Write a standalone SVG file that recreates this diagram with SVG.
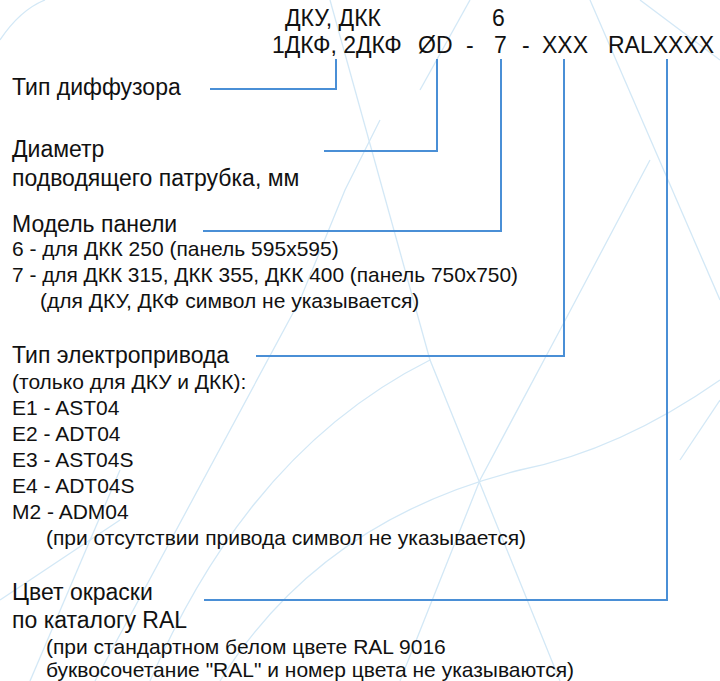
<svg xmlns="http://www.w3.org/2000/svg" width="720" height="681" viewBox="0 0 720 681">
<style>
text{font-family:"Liberation Sans",Arial,sans-serif;fill:#111;}
.t{font-size:23px;}
.s{font-size:21px;}
.c{fill:none;stroke:#4a8fd6;stroke-width:2;}
.w{fill:none;stroke:#d3e8f6;stroke-width:1.3;}
</style>
<rect width="720" height="681" fill="#fff"/>
<g id="watermark">
<path class="w" d="M0,40 Q20,10 45,0"/>
<path class="w" d="M95,681 L300,300 L345,190 L380,120"/>
<path class="w" d="M150,681 Q250,450 430,360 L560,681"/>
<path class="w" d="M330,0 L430,360"/>
<path class="w" d="M220,681 Q320,520 520,470 Q620,450 720,380"/>
<path class="w" d="M400,681 L480,480 L560,330 L650,160"/>
<path class="w" d="M590,0 L720,300"/>
<path class="w" d="M640,0 Q680,30 720,60"/>
<path class="w" d="M470,0 L420,90"/>
<path class="w" d="M680,460 L720,400"/>
<path class="w" d="M0,600 Q60,560 120,520"/>
<path class="w" d="M30,681 L120,470"/>
</g>
<g id="code">
<text class="t" x="285" y="26">ДКУ, ДКК</text>
<text class="t" x="492" y="26">6</text>
<text class="t" x="272" y="53">1ДКФ, 2ДКФ</text>
<text class="t" x="418" y="53">ØD</text>
<text class="t" x="466" y="53">-</text>
<text class="t" x="494" y="53">7</text>
<text class="t" x="522" y="53">-</text>
<text class="t" x="542" y="53">XXX</text>
<text class="t" x="608" y="53">RALXXXX</text>
</g>
<g id="connectors">
<polyline class="c" points="336,59 336,89 210,89"/>
<polyline class="c" points="437,59 437,151 324,151"/>
<polyline class="c" points="501,59 501,231 203,231"/>
<polyline class="c" points="564,59 564,356 256,356"/>
<polyline class="c" points="667,59 667,600 204,600"/>
</g>
<g id="diffuser-type">
<text class="t" x="12" y="95">Тип диффузора</text>
</g>
<g id="diameter">
<text class="t" x="12" y="157">Диаметр</text>
<text class="t" x="12" y="186">подводящего патрубка, мм</text>
</g>
<g id="panel-model">
<text class="t" x="12" y="232">Модель панели</text>
<text class="s" x="12" y="256">6 - для ДКК 250 (панель 595x595)</text>
<text class="s" x="12" y="282" textLength="506" lengthAdjust="spacingAndGlyphs">7 - для ДКК 315, ДКК 355, ДКК 400 (панель 750x750)</text>
<text class="s" x="40" y="308">(для ДКУ, ДКФ символ не указывается)</text>
</g>
<g id="actuator">
<text class="t" x="12" y="363">Тип электропривода</text>
<text class="s" x="12" y="389">(только для ДКУ и ДКК):</text>
<text class="s" x="12" y="415">E1 - AST04</text>
<text class="s" x="12" y="441">E2 - ADT04</text>
<text class="s" x="12" y="467">E3 - AST04S</text>
<text class="s" x="12" y="493">E4 - ADT04S</text>
<text class="s" x="12" y="519">M2 - ADM04</text>
<text class="s" x="46" y="545">(при отсутствии привода символ не указывается)</text>
</g>
<g id="color">
<text class="t" x="12" y="600">Цвет окраски</text>
<text class="t" x="12" y="628">по каталогу RAL</text>
<text class="s" x="46" y="654">(при стандартном белом цвете RAL 9016</text>
<text class="s" x="46" y="677">буквосочетание "RAL" и номер цвета не указываются)</text>
</g>
</svg>
